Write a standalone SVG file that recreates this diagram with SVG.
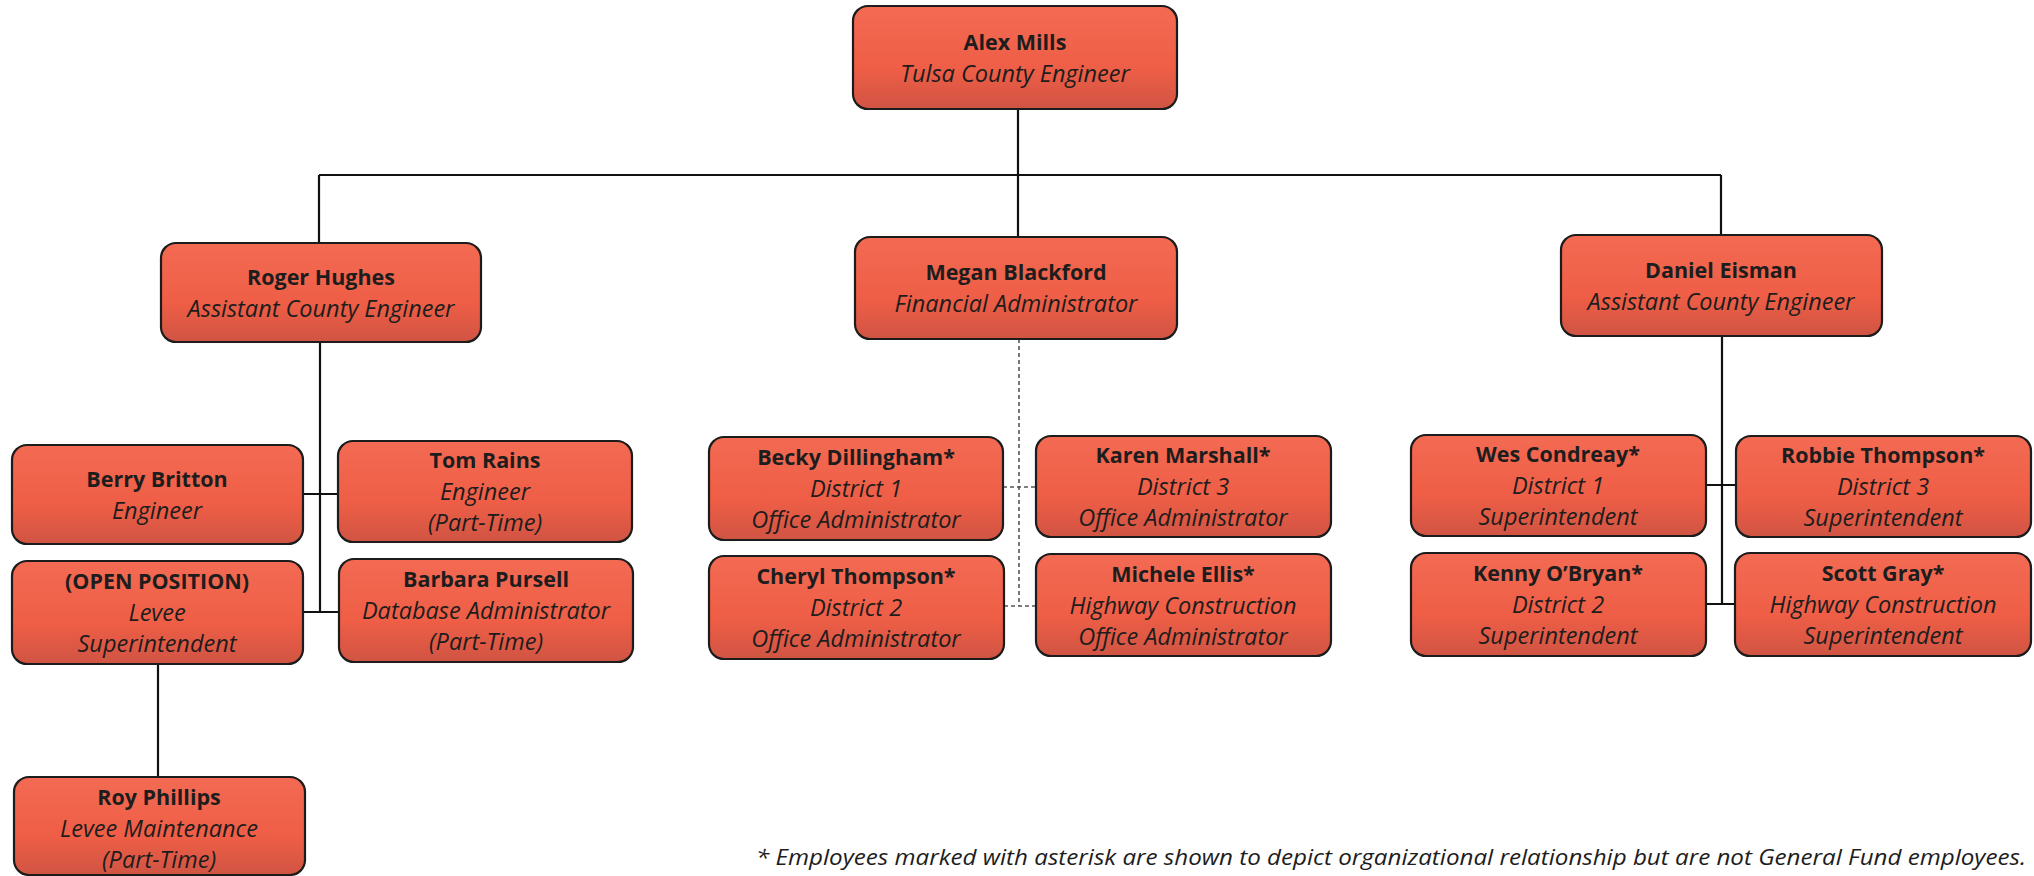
<svg xmlns="http://www.w3.org/2000/svg" width="2034" height="876" viewBox="0 0 2034 876">
  <defs>
    <linearGradient id="boxFill" x1="0" y1="0" x2="0" y2="1">
      <stop offset="0" stop-color="#f36a53"/>
      <stop offset="0.6" stop-color="#ef5e46"/>
      <stop offset="1" stop-color="#d05443"/>
    </linearGradient>
    <style>
      .box { fill: url(#boxFill); stroke: #1c1c1c; stroke-width: 2.2; }
      .name { font-family: "Open Sans", Lato, "Liberation Sans", sans-serif; font-weight: bold; font-size: 21.5px; fill: #1d1d1d; text-anchor: middle; }
      .role { font-family: "Open Sans", Lato, "Liberation Sans", sans-serif; font-style: italic; font-size: 23.5px; fill: #1d1d1d; text-anchor: middle; }
      .line { fill: none; stroke: #111; stroke-width: 2.2; }
      .dash { fill: none; stroke: #555; stroke-width: 1.6; stroke-dasharray: 4 3; }
      .note { font-family: "Open Sans", Lato, "Liberation Sans", sans-serif; font-style: italic; font-size: 22px; fill: #1d1d1d; }
    </style>
  </defs>
  <rect width="2034" height="876" fill="#ffffff"/>

  <!-- reporting lines -->
  <g id="connectors">
    <path class="line" d="M1018 109 V175 M319 175 H1721 M319 175 V243 M1018 175 V237 M1721 175 V235"/>
    <path class="line" d="M320 342 V612 M303 494 H338 M303 612 H339"/>
    <path class="line" d="M158 664 V777"/>
    <path class="line" d="M1722 336 V604 M1706 485 H1736 M1706 604 H1735"/>
    <path class="dash" d="M1019 339 V606 M1003 487 H1036 M1004 606 H1036"/>
  </g>

  <g id="alex-mills">
    <rect class="box" x="853" y="6" width="324" height="103" rx="15"/>
    <text class="name" x="1015" y="50">Alex Mills</text>
    <text class="role" x="1015" y="82">Tulsa County Engineer</text>
  </g>

  <g id="roger-hughes">
    <rect class="box" x="161" y="243" width="320" height="99" rx="15"/>
    <text class="name" x="321" y="285">Roger Hughes</text>
    <text class="role" x="321" y="317">Assistant County Engineer</text>
  </g>

  <g id="megan-blackford">
    <rect class="box" x="855" y="237" width="322" height="102" rx="15"/>
    <text class="name" x="1016" y="280">Megan Blackford</text>
    <text class="role" x="1016" y="312">Financial Administrator</text>
  </g>

  <g id="daniel-eisman">
    <rect class="box" x="1561" y="235" width="321" height="101" rx="15"/>
    <text class="name" x="1721" y="278">Daniel Eisman</text>
    <text class="role" x="1721" y="310">Assistant County Engineer</text>
  </g>

  <g id="berry-britton">
    <rect class="box" x="12" y="445" width="291" height="99" rx="15"/>
    <text class="name" x="157" y="487">Berry Britton</text>
    <text class="role" x="157" y="519">Engineer</text>
  </g>

  <g id="tom-rains">
    <rect class="box" x="338" y="441" width="294" height="101" rx="15"/>
    <text class="name" x="485" y="468">Tom Rains</text>
    <text class="role" x="485" y="500">Engineer</text>
    <text class="role" x="485" y="531">(Part-Time)</text>
  </g>

  <g id="open-position">
    <rect class="box" x="12" y="561" width="291" height="103" rx="15"/>
    <text class="name" x="157" y="589">(OPEN POSITION)</text>
    <text class="role" x="157" y="621">Levee</text>
    <text class="role" x="157" y="652">Superintendent</text>
  </g>

  <g id="barbara-pursell">
    <rect class="box" x="339" y="559" width="294" height="103" rx="15"/>
    <text class="name" x="486" y="587">Barbara Pursell</text>
    <text class="role" x="486" y="619">Database Administrator</text>
    <text class="role" x="486" y="650">(Part-Time)</text>
  </g>

  <g id="roy-phillips">
    <rect class="box" x="14" y="777" width="291" height="98" rx="15"/>
    <text class="name" x="159" y="805">Roy Phillips</text>
    <text class="role" x="159" y="837">Levee Maintenance</text>
    <text class="role" x="159" y="868">(Part-Time)</text>
  </g>

  <g id="becky-dillingham">
    <rect class="box" x="709" y="437" width="294" height="103" rx="15"/>
    <text class="name" x="856" y="465">Becky Dillingham*</text>
    <text class="role" x="856" y="497">District 1</text>
    <text class="role" x="856" y="528">Office Administrator</text>
  </g>

  <g id="karen-marshall">
    <rect class="box" x="1036" y="436" width="295" height="101" rx="15"/>
    <text class="name" x="1183" y="463">Karen Marshall*</text>
    <text class="role" x="1183" y="495">District 3</text>
    <text class="role" x="1183" y="526">Office Administrator</text>
  </g>

  <g id="cheryl-thompson">
    <rect class="box" x="709" y="556" width="295" height="103" rx="15"/>
    <text class="name" x="856" y="584">Cheryl Thompson*</text>
    <text class="role" x="856" y="616">District 2</text>
    <text class="role" x="856" y="647">Office Administrator</text>
  </g>

  <g id="michele-ellis">
    <rect class="box" x="1036" y="554" width="295" height="102" rx="15"/>
    <text class="name" x="1183" y="582">Michele Ellis*</text>
    <text class="role" x="1183" y="614">Highway Construction</text>
    <text class="role" x="1183" y="645">Office Administrator</text>
  </g>

  <g id="wes-condreay">
    <rect class="box" x="1411" y="435" width="295" height="101" rx="15"/>
    <text class="name" x="1558" y="462">Wes Condreay*</text>
    <text class="role" x="1558" y="494">District 1</text>
    <text class="role" x="1558" y="525">Superintendent</text>
  </g>

  <g id="robbie-thompson">
    <rect class="box" x="1736" y="436" width="295" height="101" rx="15"/>
    <text class="name" x="1883" y="463">Robbie Thompson*</text>
    <text class="role" x="1883" y="495">District 3</text>
    <text class="role" x="1883" y="526">Superintendent</text>
  </g>

  <g id="kenny-obryan">
    <rect class="box" x="1411" y="553" width="295" height="103" rx="15"/>
    <text class="name" x="1558" y="581">Kenny O’Bryan*</text>
    <text class="role" x="1558" y="613">District 2</text>
    <text class="role" x="1558" y="644">Superintendent</text>
  </g>

  <g id="scott-gray">
    <rect class="box" x="1735" y="553" width="296" height="103" rx="15"/>
    <text class="name" x="1883" y="581">Scott Gray*</text>
    <text class="role" x="1883" y="613">Highway Construction</text>
    <text class="role" x="1883" y="644">Superintendent</text>
  </g>

  <text class="note" x="756" y="865" textLength="1270" lengthAdjust="spacingAndGlyphs">* Employees marked with asterisk are shown to depict organizational relationship but are not General Fund employees.</text>
</svg>
